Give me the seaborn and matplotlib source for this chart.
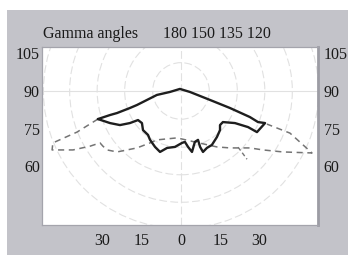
import numpy as np
import pandas as pd
import matplotlib
matplotlib.use("Agg")
import matplotlib.pyplot as plt
from matplotlib.patches import Ellipse, Rectangle
import seaborn as sns

# ---- data ----
# solid curve: closed outline
solid_x = [-31.7, -27.1, -24.4, -19.5, -16.8, -9.2, -4.2, -0.4, 3.4, 11.1, 18.7, 26.3, 29.4, 32.1,
           29.0, 25.6, 20.6, 16.0, 14.9, 14.9, 13.7, 11.8, 9.9, 8.4, 7.3, 6.5, 5.3, 4.2, 2.7, 1.5,
           0.4, -2.3, -5.3, -8.0, -9.9, -11.8, -12.6, -14.5, -14.9, -16.4, -19.5, -23.3, -27.1, -31.7]
solid_y = [78.8, 80.4, 81.2, 83.2, 84.4, 88.4, 89.6, 90.8, 89.6, 86.4, 83.2, 79.6, 77.6, 77.2,
           73.6, 75.6, 77.2, 77.6, 76.4, 74.4, 71.6, 68.5, 67.3, 65.7, 67.7, 70.5, 69.7, 65.7, 67.7, 69.7,
           69.3, 67.7, 67.3, 65.7, 67.7, 70.5, 72.5, 74.4, 77.2, 78.4, 77.2, 76.4, 77.2, 78.8]

# dashed curve: closed outline
dash_x = [-31.7, -39.7, -48.9, -49.2, -41.2, -34.7, -30.9, -29.8, -28.2, -24.4, -16.8, -11.8,
          -9.2, -1.5, 6.0, 13.7, 18.7, 26.3, 31.3, 38.9, 50.0, 41.6, 32.8]
dash_y = [78.8, 73.6, 69.3, 66.5, 66.5, 68.0, 69.3, 68.0, 66.5, 65.7, 67.3, 69.3,
          70.5, 71.3, 69.5, 67.7, 67.3, 67.3, 66.5, 65.7, 65.3, 73.2, 76.8]

# small dashed tick
tick_x = [21.8, 25.2]
tick_y = [67.6, 62.8]

# polar grid radii (x units) and centre
grid_radii = [10.8, 21.5, 32.0, 42.5, 52.5]
grid_center = (0, 90)

x_ticks = [-30, -15, 0, 15, 30]
x_ticklabels = ["30", "15", "0", "15", "30"]
y_ticks = [60, 75, 90, 105]
y_ticklabels = ["60", "75", "90", "105"]
header_left = "Gamma angles"
header_right = "180 150 135 120"

# ---- figure ----
sns.set_theme(style="white")
plt.rcParams["font.family"] = ["Liberation Serif", "DejaVu Serif"]

W, H = 352, 258
fig = plt.figure(figsize=(W / 100, H / 100), dpi=100)
fig.patch.set_facecolor("white")
fig.patches.append(Rectangle((7 / W, 3 / H), 341 / W, 245 / H, transform=fig.transFigure,
                             facecolor="#c3c3c9", edgecolor="none", zorder=-5))

ax = fig.add_axes([42 / W, (H - 225) / H, 276 / W, 178 / H])
ax.set_facecolor("white")
XL = (-53.05, 52.3)
YL = (36.6, 107.5)
ax.set_xlim(*XL)
ax.set_ylim(*YL)

ratio = (276 / (XL[1] - XL[0])) / (178 / (YL[1] - YL[0]))
grid_col = "#e1e1e1"
for r in grid_radii:
    ax.add_patch(Ellipse(grid_center, 2 * r, 2 * r * ratio, fill=False, edgecolor=grid_col,
                         linewidth=0.8, linestyle=(0, (7, 3)), zorder=1))
ax.axhline(grid_center[1], color=grid_col, lw=0.8, zorder=1)
ax.axvline(grid_center[0], color=grid_col, lw=0.8, linestyle=(0, (7, 3)), zorder=1)

df_solid = pd.DataFrame({"x": solid_x, "y": solid_y})
df_dash = pd.DataFrame({"x": dash_x, "y": dash_y})
df_tick = pd.DataFrame({"x": tick_x, "y": tick_y})

sns.lineplot(data=df_dash, x="x", y="y", sort=False, estimator=None, ax=ax,
             color="#747474", linewidth=1.1, linestyle=(0, (4, 3)), zorder=2)
sns.lineplot(data=df_tick, x="x", y="y", sort=False, estimator=None, ax=ax,
             color="#747474", linewidth=1.0, linestyle=(0, (3, 2)), zorder=2)
sns.lineplot(data=df_solid, x="x", y="y", sort=False, estimator=None, ax=ax,
             color="#1e1e1e", linewidth=1.7, zorder=3)

ax.set_xlabel("")
ax.set_ylabel("")
ax.set_xticks(x_ticks)
ax.set_xticklabels(x_ticklabels)
ax.set_yticks(y_ticks)
ax.set_yticklabels(y_ticklabels)
ax.tick_params(axis="both", length=0, labelsize=11.5, colors="#1a1a1a")
ax.tick_params(axis="x", pad=6)
ax.tick_params(axis="y", pad=1.5)
for s in ax.spines.values():
    s.set_color("#a4a4ac")
    s.set_linewidth(0.9)
ax.spines["right"].set_linewidth(2.0)
ax.spines["right"].set_color("#9c9ca4")

# right-hand labels
ax2 = ax.twinx()
ax2.set_ylim(*YL)
ax2.set_yticks(y_ticks)
ax2.set_yticklabels(y_ticklabels)
ax2.tick_params(axis="y", length=0, labelsize=11.5, colors="#1a1a1a", pad=4)
ax2.grid(False)
for s in ax2.spines.values():
    s.set_visible(False)

fig.text(43 / W, (H - 38) / H, header_left, fontsize=11.5, color="#1a1a1a", va="baseline", ha="left")
fig.text(163 / W, (H - 38) / H, header_right, fontsize=11.5, color="#1a1a1a", va="baseline", ha="left")

fig.savefig("out.png", dpi=100, facecolor="white")
